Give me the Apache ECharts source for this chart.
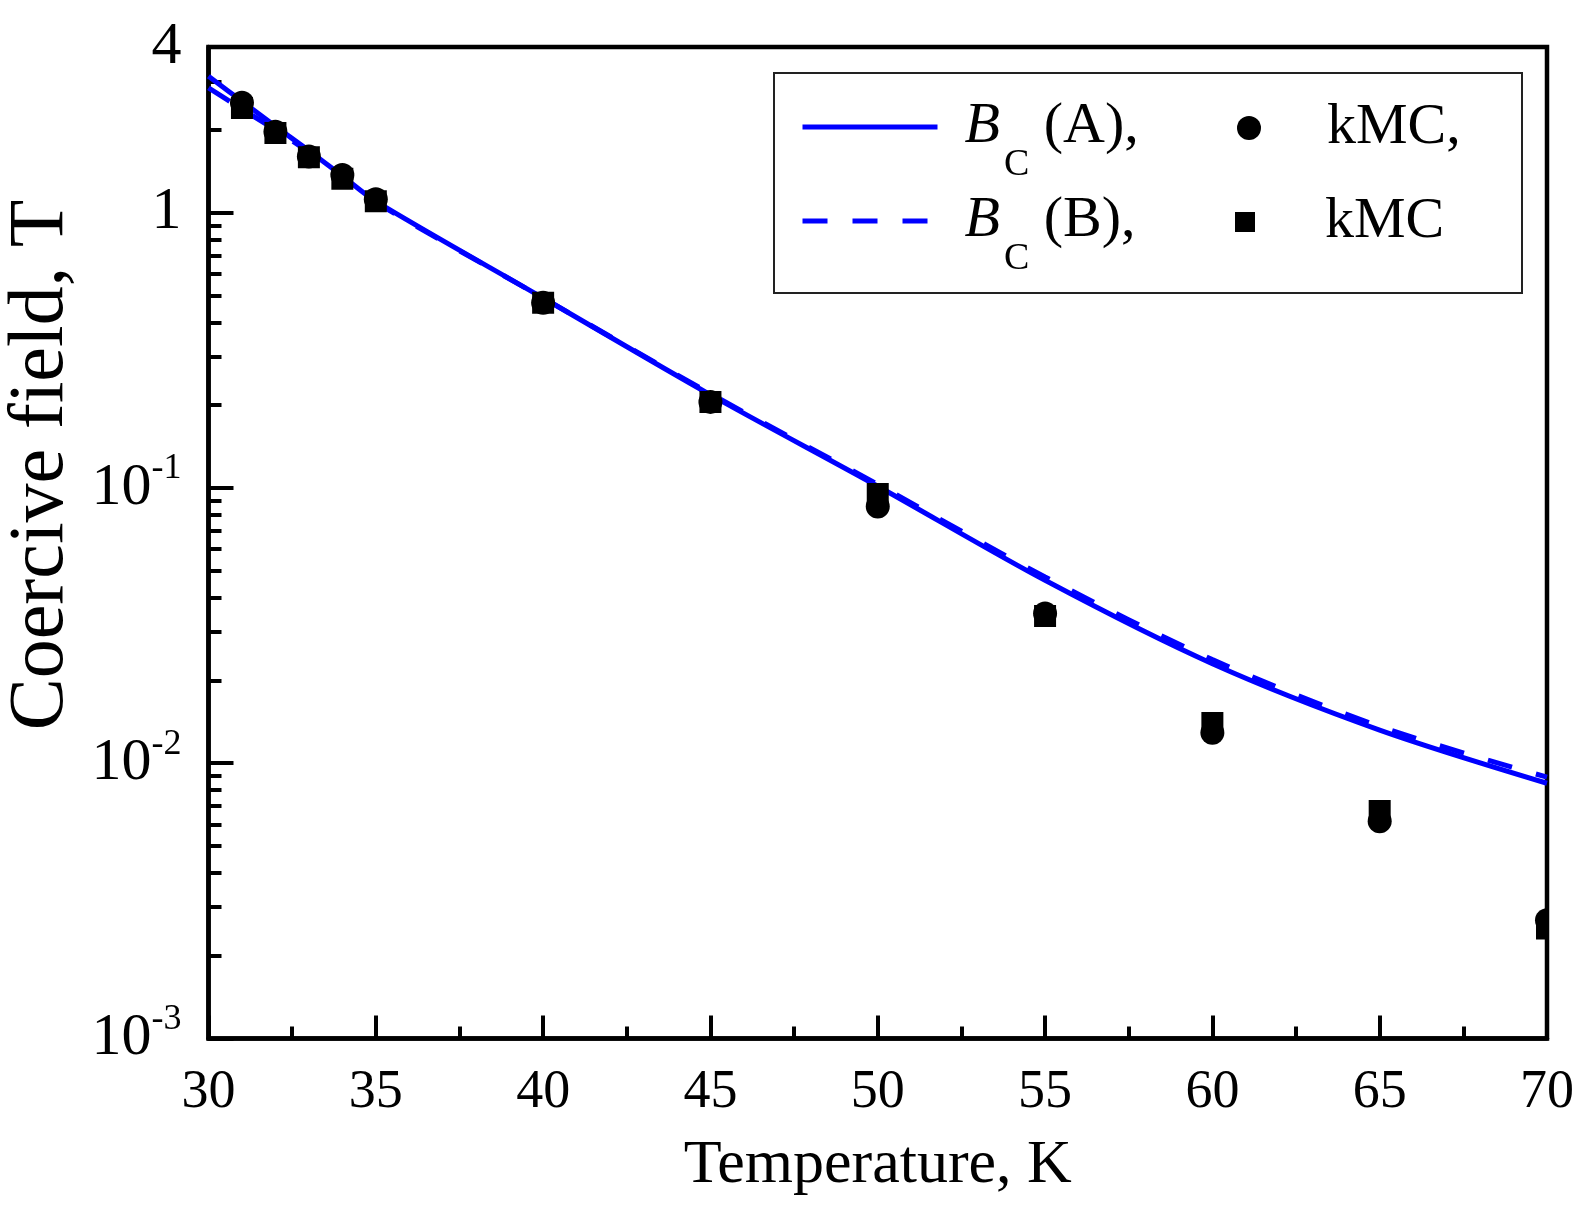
<!DOCTYPE html>
<html>
<head>
<meta charset="utf-8">
<title>Coercive field vs temperature</title>
<script src="https://cdn.jsdelivr.net/npm/echarts@6/dist/echarts.min.js"></script>
<style>
html, body {margin: 0; padding: 0; background: #fff;}
#chart {width: 1585px; height: 1207px;}
</style>
</head>
<body>
<div id="chart"></div>
<script>
// curves B_C(A) and B_C(B), read at these temperatures (K)
var lineT = [30, 31, 32, 33, 34, 35, 40, 45, 50, 55, 60, 65, 70];
var bcA = [3.13, 2.54, 2.06, 1.68, 1.36, 1.10, 0.49, 0.218, 0.1015, 0.0462, 0.0230, 0.0132, 0.00846];
var bcB = [2.84, 2.38, 2.00, 1.66, 1.35, 1.09, 0.49, 0.220, 0.103, 0.0475, 0.0238, 0.0136, 0.0089];

// kMC points
var kmcT = [31, 32, 33, 34, 35, 40, 45, 50, 55, 60, 65, 70];
var kmcCircle = [2.51, 1.97, 1.60, 1.37, 1.12, 0.471, 0.2055, 0.0856, 0.035, 0.0129, 0.00615, 0.00269];
var kmcSquare = [2.40, 1.95, 1.59, 1.33, 1.10, 0.471, 0.2055, 0.0951, 0.0343, 0.0140, 0.0067, 0.00251];

// minor ticks of the log axis
var yMinorTicks = [0.002, 0.003, 0.004, 0.005, 0.006, 0.007, 0.008, 0.009,
                   0.02, 0.03, 0.04, 0.05, 0.06, 0.07, 0.08, 0.09,
                   0.2, 0.3, 0.4, 0.5, 0.6, 0.7, 0.8, 0.9,
                   2, 3];

var serif = "'Times New Roman', 'Liberation Serif', serif";

function pairs(xs, ys) {
    var out = [];
    for (var i = 0; i < xs.length; i++) out.push([xs[i], ys[i]]);
    return out;
}

// rich text for the "B_C (x)," legend labels
var bcRich = {
    b: {fontFamily: serif, fontStyle: 'italic', fontSize: 58, color: '#000', padding: [0, 0, 0, 22]},
    c: {fontFamily: serif, fontSize: 38, color: '#000', padding: [76, 0, 0, 4]},
    r: {fontFamily: serif, fontSize: 58, color: '#000'}
};

var myChart = echarts.init(document.getElementById('chart'), null, {renderer: 'canvas'});

var option = {
    backgroundColor: '#fff',
    animation: false,
    grid: {
        left: 208.5,
        right: 38,
        top: 47,
        bottom: 168.5,
        show: true,
        borderColor: '#000',
        borderWidth: 4.5,
        backgroundColor: 'transparent',
        outerBoundsMode: 'none'
    },
    xAxis: {
        type: 'value',
        min: 30,
        max: 70,
        interval: 5,
        name: 'Temperature, K',
        nameLocation: 'middle',
        nameGap: 96,
        nameTextStyle: {fontFamily: serif, fontSize: 62, color: '#000'},
        axisLine: {lineStyle: {color: '#000', width: 4.5}},
        axisTick: {inside: true, length: 23, lineStyle: {color: '#000', width: 4}},
        minorTick: {show: true, splitNumber: 2, length: 12, lineStyle: {color: '#000', width: 4}},
        splitLine: {show: false},
        axisLabel: {
            fontFamily: serif, fontSize: 54, color: '#000', margin: 27,
            showMinLabel: true, showMaxLabel: true
        }
    },
    yAxis: [
        {
            type: 'log',
            logBase: 10,
            min: 0.001,
            max: 4,
            axisLine: {lineStyle: {color: '#000', width: 4.5}},
            axisTick: {inside: true, length: 25, lineStyle: {color: '#000', width: 4}},
            splitLine: {show: false},
            axisLabel: {
                margin: 27,
                showMinLabel: true,
                showMaxLabel: true,
                formatter: function (v) {
                    if (v >= 1) return '{n|' + Math.round(v) + '}';
                    var e = Math.round(Math.log10(v));
                    return '{n|10}{s|' + e + '}';
                },
                rich: {
                    n: {fontFamily: serif, fontSize: 60, color: '#000'},
                    s: {fontFamily: serif, fontSize: 36, color: '#000', padding: [0, 0, 38, 0]}
                }
            }
        },
        {
            // second axis only carries the minor ticks
            type: 'log',
            logBase: 10,
            min: 0.001,
            max: 4,
            position: 'left',
            axisLine: {show: false},
            axisLabel: {show: false},
            splitLine: {show: false},
            axisTick: {
                inside: true, length: 13,
                customValues: yMinorTicks,
                lineStyle: {color: '#000', width: 4}
            }
        }
    ],
    legend: [
        {
            data: [{name: 'A'}],
            left: 800, top: 98, padding: 0,
            itemWidth: 135, itemHeight: 24,
            selectedMode: false,
            itemStyle: {opacity: 0},
            lineStyle: {width: 5},
            formatter: function () { return '{b|B}{c|C}{r| (A),}'; },
            textStyle: {rich: bcRich}
        },
        {
            data: [{name: 'B'}],
            left: 800, top: 192, padding: 0,
            itemWidth: 135, itemHeight: 24,
            selectedMode: false,
            itemStyle: {opacity: 0},
            lineStyle: {width: 5},
            formatter: function () { return '{b|B}{c|C}{r| (B),}'; },
            textStyle: {rich: bcRich}
        },
        {
            data: [{name: 'kmc1', icon: 'circle'}],
            left: 1237, top: 99, padding: 0,
            itemWidth: 24, itemHeight: 24,
            selectedMode: false,
            formatter: function () { return '{t|kMC,}'; },
            textStyle: {
                rich: {t: {fontFamily: serif, fontSize: 58, lineHeight: 58, color: '#000', padding: [0, 0, 0, 61]}}
            }
        },
        {
            data: [{name: 'kmc2', icon: 'rect'}],
            left: 1235, top: 193, padding: 0,
            itemWidth: 20, itemHeight: 20,
            selectedMode: false,
            formatter: function () { return '{t|kMC}'; },
            textStyle: {
                rich: {t: {fontFamily: serif, fontSize: 58, lineHeight: 58, color: '#000', padding: [0, 0, 0, 65]}}
            }
        }
    ],
    graphic: [
        {
            type: 'rect',
            shape: {x: 774, y: 73, width: 748, height: 220},
            style: {fill: 'none', stroke: '#222', lineWidth: 2},
            z: 10
        },
        {
            type: 'text',
            x: 42, y: 465,
            rotation: Math.PI / 2,
            style: {
                text: 'Coercive field, T',
                fontFamily: serif, fontSize: 78, fill: '#000',
                align: 'center', verticalAlign: 'middle'
            }
        }
    ],
    series: [
        {
            name: 'A',
            type: 'line',
            data: pairs(lineT, bcA),
            symbol: 'none',
            smooth: 0.3,
            lineStyle: {color: '#0000ff', width: 5},
            itemStyle: {color: '#0000ff'},
            z: 2
        },
        {
            name: 'B',
            type: 'line',
            data: pairs(lineT, bcB),
            symbol: 'none',
            smooth: 0.3,
            lineStyle: {color: '#0000ff', width: 5, type: [25, 25]},
            itemStyle: {color: '#0000ff'},
            z: 2
        },
        {
            name: 'kmc1',
            type: 'custom',
            clip: true,
            data: pairs(kmcT, kmcCircle),
            itemStyle: {color: '#000'},
            z: 3,
            renderItem: function (params, api) {
                var p = api.coord([api.value(0), api.value(1)]);
                return {type: 'circle', shape: {cx: p[0], cy: p[1], r: 12}, style: {fill: '#000'}};
            }
        },
        {
            name: 'kmc2',
            type: 'custom',
            clip: true,
            data: pairs(kmcT, kmcSquare),
            itemStyle: {color: '#000'},
            z: 3,
            renderItem: function (params, api) {
                var p = api.coord([api.value(0), api.value(1)]);
                return {type: 'rect', shape: {x: p[0] - 11, y: p[1] - 11, width: 22, height: 22}, style: {fill: '#000'}};
            }
        }
    ]
};
myChart.setOption(option);
</script>
</body>
</html>
